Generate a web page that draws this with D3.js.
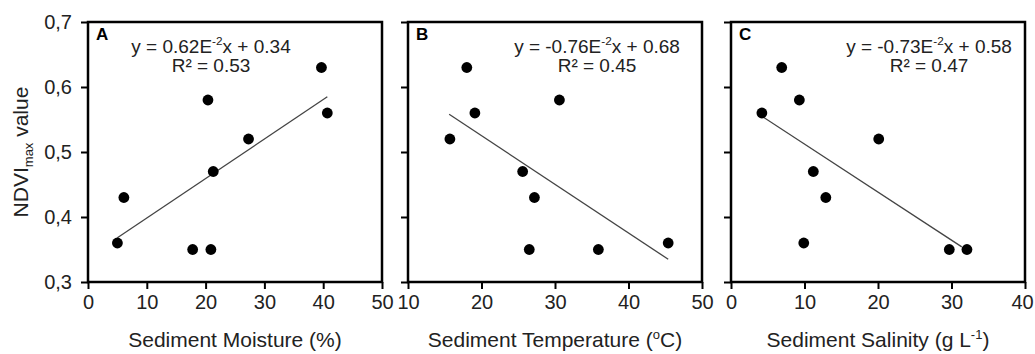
<!DOCTYPE html>
<html>
<head>
<meta charset="utf-8">
<script src="https://cdn.jsdelivr.net/npm/d3@7"></script>
<style>
  body { margin: 0; background: #fff; }
  svg text { font-family: "Liberation Sans", Arial, sans-serif; fill: #222; }
  .tick line { stroke: #000; stroke-width: 2; }
  .domain { display: none; }
</style>
</head>
<body>
<svg id="chart" width="1035" height="354"></svg>
<script>
// panel A: sediment moisture (%)
const moistureX = [20.4, 39.7, 40.7, 27.3, 21.3, 6.1, 5.0, 17.8, 20.9];
const moistureY = [0.58, 0.63, 0.56, 0.52, 0.47, 0.43, 0.36, 0.35, 0.35];
const moistureTrend = [[5.0, 0.368], [40.7, 0.585]];

// panel B: sediment temperature (°C)
const tempX = [18.0, 19.1, 15.7, 30.6, 25.6, 27.2, 26.5, 35.9, 45.4];
const tempY = [0.63, 0.56, 0.52, 0.58, 0.47, 0.43, 0.35, 0.35, 0.36];
const tempTrend = [[15.6, 0.558], [45.4, 0.335]];

// panel C: sediment salinity (g L-1)
const salX = [6.9, 9.3, 4.2, 20.1, 11.2, 12.9, 9.9, 29.7, 32.1];
const salY = [0.63, 0.58, 0.56, 0.52, 0.47, 0.43, 0.36, 0.35, 0.35];
const salTrend = [[4.2, 0.555], [31.4, 0.354]];

const yTicks = [0.3, 0.4, 0.5, 0.6, 0.7];
const xTicksA = [0, 10, 20, 30, 40, 50];
const xTicksB = [10, 20, 30, 40, 50];
const xTicksC = [0, 10, 20, 30, 40];

const panels = [
  {letter: "A", left: 88, right: 382, dom: [0, 50], ticks: xTicksA, xs: moistureX, ys: moistureY, trend: moistureTrend,
   eq: ["y = 0.62E", "-2", "x + 0.34"], r2: "R² = 0.53", eqX: 211, title: ["Sediment Moisture (%)"]},
  {letter: "B", left: 408, right: 702, dom: [10, 50], ticks: xTicksB, xs: tempX, ys: tempY, trend: tempTrend,
   eq: ["y = -0.76E", "-2", "x + 0.68"], r2: "R² = 0.45", eqX: 597, title: ["Sediment Temperature (", "o", "C)"]},
  {letter: "C", left: 731, right: 1025, dom: [0, 40], ticks: xTicksC, xs: salX, ys: salY, trend: salTrend,
   eq: ["y = -0.73E", "-2", "x + 0.58"], r2: "R² = 0.47", eqX: 929, title: ["Sediment Salinity (g L", "-1", ")"]}
];

const plotTop = 22, plotBottom = 282;
const svg = d3.select("#chart");

const y = d3.scaleLinear().domain([0.3, 0.7]).range([plotBottom, plotTop]);

// text with a raised middle piece (superscript)
function supText(sel, parts, size) {
  sel.append("tspan").text(parts[0]);
  if (parts.length > 1) {
    sel.append("tspan").attr("dy", -size * 0.4).style("font-size", (size * 0.62) + "px").text(parts[1]);
    sel.append("tspan").attr("dy", size * 0.4).text(parts[2]);
  }
}

panels.forEach((p, i) => {
  const x = d3.scaleLinear().domain(p.dom).range([p.left, p.right]);
  const g = svg.append("g");

  g.append("g")
    .attr("transform", `translate(${p.left},0)`)
    .call(d3.axisLeft(y).tickValues(yTicks).tickSize(7).tickPadding(9)
      .tickFormat(i === 0 ? (d => d.toFixed(1).replace(".", ",")) : () => ""))
    .selectAll("text").style("font-size", "20px");

  const xa = g.append("g")
    .attr("transform", `translate(0,${plotBottom})`)
    .call(d3.axisBottom(x).tickValues(p.ticks).tickSize(7).tickPadding(6));
  xa.selectAll("text").style("font-size", "20px");
  // last label of the right panel sits at the page edge
  if (i === 2) xa.selectAll("text").filter(d => d === 40).attr("dx", -3);

  g.append("rect")
    .attr("x", p.left).attr("y", plotTop)
    .attr("width", p.right - p.left).attr("height", plotBottom - plotTop)
    .attr("fill", "none").attr("stroke", "#000").attr("stroke-width", 2.5);

  g.append("line")
    .attr("x1", x(p.trend[0][0])).attr("y1", y(p.trend[0][1]))
    .attr("x2", x(p.trend[1][0])).attr("y2", y(p.trend[1][1]))
    .attr("stroke", "#444").attr("stroke-width", 1.3);

  g.selectAll("circle")
    .data(p.xs.map((v, k) => [v, p.ys[k]]))
    .join("circle")
    .attr("cx", d => x(d[0])).attr("cy", d => y(d[1]))
    .attr("r", 5.4).attr("fill", "#000");

  g.append("text")
    .attr("x", p.left + 8).attr("y", 40)
    .style("font-size", "17px").style("font-weight", "bold").style("fill", "#000")
    .text(p.letter);

  const eq = g.append("text")
    .attr("x", p.eqX).attr("y", 53).attr("text-anchor", "middle")
    .style("font-size", "19px");
  supText(eq, p.eq, 19);

  g.append("text")
    .attr("x", p.eqX).attr("y", 72).attr("text-anchor", "middle")
    .style("font-size", "19px").text(p.r2);

  const t = g.append("text")
    .attr("x", (p.left + p.right) / 2).attr("y", 347).attr("text-anchor", "middle")
    .style("font-size", "21px");
  supText(t, p.title, 21);
});

// y axis title
const yt = svg.append("text")
  .attr("transform", "translate(28,152) rotate(-90)")
  .attr("text-anchor", "middle")
  .style("font-size", "21px");
yt.append("tspan").text("NDVI");
yt.append("tspan").attr("dy", 5).style("font-size", "13px").text("max");
yt.append("tspan").attr("dy", -5).text(" value");
</script>
</body>
</html>
